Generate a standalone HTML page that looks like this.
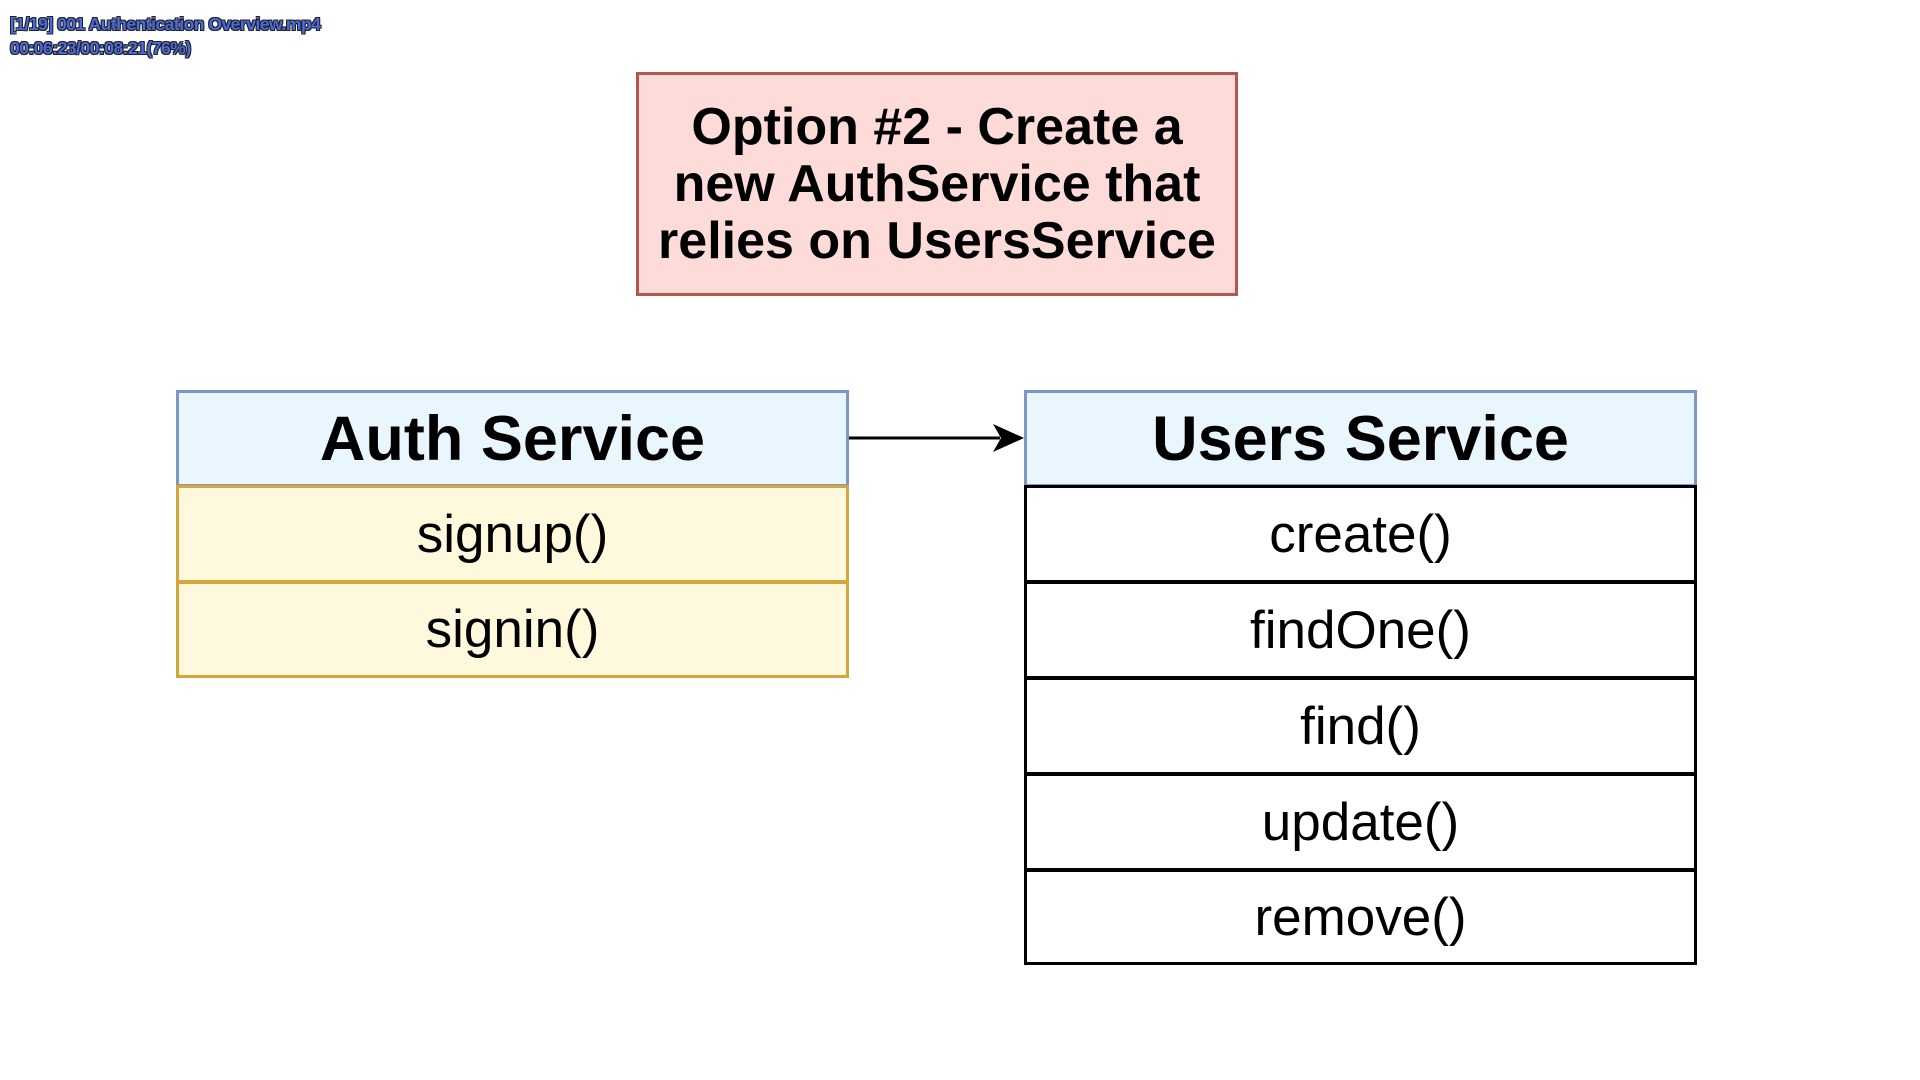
<!DOCTYPE html>
<html><head><meta charset="utf-8"><style>
html,body{margin:0;padding:0;background:#fff;width:1920px;height:1080px;overflow:hidden;font-family:"Liberation Sans",Arial,sans-serif;}
.abs{position:absolute;box-sizing:border-box;}
.title{left:636px;top:72px;width:602px;height:224px;background:#fddbd8;border:3px solid #b85450;display:flex;align-items:center;justify-content:center;text-align:center;font-weight:bold;font-size:52px;line-height:57px;color:#000;white-space:nowrap;}
.hdr{background:#eaf6fe;border:3px solid #7d96c4;display:flex;align-items:center;justify-content:center;font-weight:bold;font-size:63px;}
.row{display:flex;align-items:center;justify-content:center;font-size:53px;}
.y{background:#fef8dc;border:3px solid #d6a63a;}
.w{background:#fff;border:3px solid #000;}
.ov{left:10px;font-weight:bold;font-size:17.5px;color:#4a6ae0;text-shadow:-1px -1px 0 #222,1px -1px 0 #222,-1px 1px 0 #222,1px 1px 0 #222;letter-spacing:-0.5px;}
</style></head><body>
<div class="abs ov" style="top:14px">[1/19] 001 Authentication Overview.mp4</div>
<div class="abs ov" style="top:38px">00:06:23/00:08:21(76%)</div>
<div class="abs title">Option #2 - Create a<br>new AuthService that<br>relies on UsersService</div>

<div class="abs hdr" style="left:176px;top:390px;width:673px;height:97px">Auth Service</div>
<div class="abs row y" style="left:176px;top:485px;width:673px;height:98px">signup()</div>
<div class="abs row y" style="left:176px;top:581px;width:673px;height:97px">signin()</div>

<div class="abs hdr" style="left:1024px;top:390px;width:673px;height:97px">Users Service</div>
<div class="abs row w" style="left:1024px;top:485px;width:673px;height:98px">create()</div>
<div class="abs row w" style="left:1024px;top:581px;width:673px;height:98px">findOne()</div>
<div class="abs row w" style="left:1024px;top:677px;width:673px;height:98px">find()</div>
<div class="abs row w" style="left:1024px;top:773px;width:673px;height:98px">update()</div>
<div class="abs row w" style="left:1024px;top:869px;width:673px;height:96px">remove()</div>

<svg class="abs" style="left:0;top:0" width="1920" height="1080">
<line x1="849" y1="438" x2="1000" y2="438" stroke="#000" stroke-width="3"/>
<path d="M1024 438 L993 424 L1001 438 L993 452 Z" fill="#000"/>
</svg>
</body></html>
